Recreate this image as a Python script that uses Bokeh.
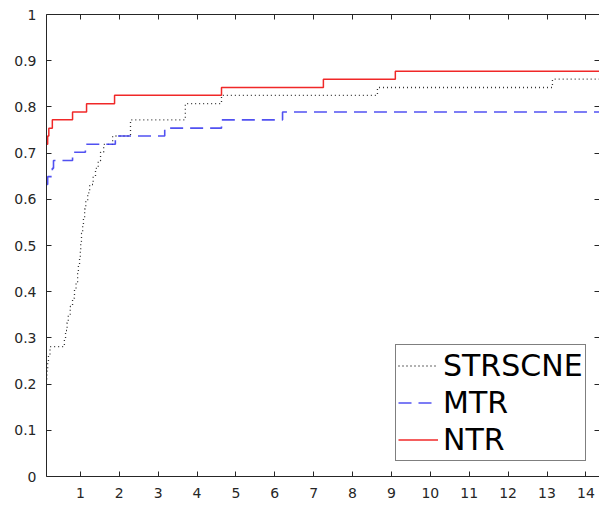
from bokeh.plotting import figure
from bokeh.models import LinearAxis, FixedTicker, Legend, LegendItem, Range1d
from bokeh.embed import file_html
from bokeh.resources import INLINE

# ---- data ----
strscne_x = [0.13, 0.14, 0.16, 0.18, 0.22, 0.59, 0.62, 0.66, 0.69, 0.74, 0.80, 0.85, 0.89,
             0.93, 0.95, 0.98, 1.00, 1.01, 1.03, 1.06, 1.08, 1.11, 1.14, 1.19, 1.24, 1.33,
             1.39, 1.46, 1.52, 1.60, 1.83, 2.29, 3.70, 4.63, 8.64, 13.14, 14.6]
strscne_y = [0.211, 0.228, 0.246, 0.263, 0.281, 0.298, 0.316, 0.333, 0.351, 0.368, 0.386,
             0.404, 0.421, 0.439, 0.456, 0.474, 0.491, 0.509, 0.526, 0.544, 0.561, 0.579,
             0.596, 0.614, 0.632, 0.649, 0.667, 0.684, 0.702, 0.719, 0.737, 0.772, 0.807,
             0.825, 0.842, 0.860, 0.860]

mtr_x = [0.13, 0.16, 0.28, 0.31, 0.80, 1.13, 1.90, 3.17, 4.63, 6.20, 14.6]
mtr_y = [0.632, 0.649, 0.667, 0.684, 0.702, 0.719, 0.737, 0.754, 0.772, 0.789, 0.789]

ntr_x = [0.13, 0.16, 0.19, 0.28, 0.80, 1.16, 1.88, 4.63, 7.25, 9.10, 14.6]
ntr_y = [0.719, 0.737, 0.754, 0.772, 0.789, 0.807, 0.825, 0.842, 0.860, 0.877, 0.877]

x_ticks = list(range(1, 15))
y_ticks = [0, 0.1, 0.2, 0.3, 0.4, 0.5, 0.6, 0.7, 0.8, 0.9, 1.0]
y_tick_labels = ["0", "0.1", "0.2", "0.3", "0.4", "0.5", "0.6", "0.7", "0.8", "0.9", "1"]

series_names = ["STRSCNE", "MTR", "NTR"]

FONT = "DejaVu Sans"
TXT = "#262626"

p = figure(frame_width=553, frame_height=462,
           x_range=Range1d(0.13, 14.35), y_range=Range1d(0, 1),
           output_backend="svg", toolbar_location=None,
           min_border_left=46, min_border_right=0, min_border_top=14, min_border_bottom=0)
p.background_fill_color = "white"
p.border_fill_color = "white"
p.outline_line_color = None
p.xgrid.visible = False
p.ygrid.visible = False

def style_axis(ax, ticks, labels=True, standoff=9):
    ax.ticker = FixedTicker(ticks=ticks)
    ax.major_tick_in = 5
    ax.major_tick_out = 0
    ax.minor_tick_in = 0
    ax.minor_tick_out = 0
    ax.axis_line_color = TXT
    ax.major_tick_line_color = TXT
    ax.axis_line_width = 1
    if labels:
        ax.major_label_text_font = FONT
        ax.major_label_text_font_size = "14px"
        ax.major_label_text_color = TXT
        ax.major_label_standoff = standoff
    else:
        ax.major_label_text_font_size = "0px"
        ax.major_label_standoff = 0
        ax.major_label_text_alpha = 0

style_axis(p.xaxis[0], x_ticks, standoff=11)
style_axis(p.yaxis[0], y_ticks, standoff=10)
p.yaxis[0].major_label_overrides = {t: l for t, l in zip(y_ticks, y_tick_labels)}

top = LinearAxis()
style_axis(top, x_ticks, labels=False)
p.add_layout(top, "above")
right = LinearAxis()
style_axis(right, y_ticks, labels=False)
right.axis_line_color = None
p.add_layout(right, "right")

r1 = p.step(strscne_x, strscne_y, mode="after", line_color="#333333", line_width=1.3,
            line_dash="1 3")
r2 = p.step(mtr_x, mtr_y, mode="after", line_color="#3333ee", line_width=1.6,
            line_dash="13 7", line_alpha=0.85)
r3 = p.step(ntr_x, ntr_y, mode="after", line_color="#ee1111", line_width=1.5,
            line_alpha=0.9)

legend = Legend(items=[LegendItem(label=series_names[0], renderers=[r1]),
                       LegendItem(label=series_names[1], renderers=[r2]),
                       LegendItem(label=series_names[2], renderers=[r3])],
                location=(349, 15))
legend.label_text_font = FONT
legend.label_text_font_size = "30px"
legend.label_text_color = "black"
legend.glyph_width = 40
legend.glyph_height = 37
legend.label_height = 37
legend.label_standoff = 5
legend.spacing = 0
legend.padding = 2
legend.margin = 0
legend.border_line_color = "black"
legend.border_line_width = 1
legend.background_fill_color = "white"
legend.background_fill_alpha = 1
p.add_layout(legend, "center")

open("out.html", "w").write(file_html(p, INLINE))
